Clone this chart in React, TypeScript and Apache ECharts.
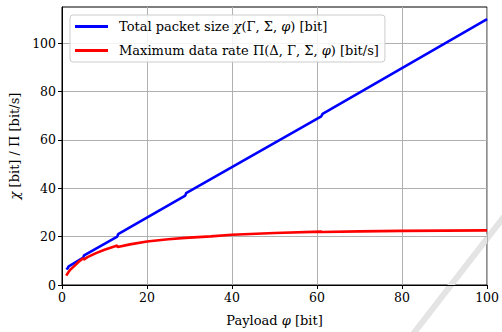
import React, { useEffect, useRef } from "react";
import * as echarts from "echarts";

// Total packet size chi [bit] (blue): payload phi -> value
const bluePayload = [1, 1.4, 1.5, 5, 5.2, 13, 13.2, 29, 29.2, 61, 61.3, 100];
const blueValues = [6.5, 7.0, 7.6, 11.3, 12.3, 20.0, 21.0, 37.0, 38.0, 69.8, 70.8, 110.0];

// Maximum data rate Pi [bit/s] (red)
const redPayload = [1, 1.5, 2, 3, 4, 5, 5.1, 6, 8, 10, 13, 13.1, 16, 20, 25, 29, 29.1, 35, 40, 50, 61, 61.2, 70, 80, 90, 100];
const redValues = [3.9, 5.3, 6.4, 8.0, 9.7, 11.1, 10.5, 11.5, 13.2, 14.6, 16.3, 15.7, 16.8, 18.0, 18.9, 19.5, 19.3, 20.1, 20.8, 21.5, 22.1, 21.9, 22.2, 22.4, 22.5, 22.6];

const xTicks = [0, 20, 40, 60, 80, 100];
const yTicks = [0, 20, 40, 60, 80, 100];

const FONT = "DejaVu Serif";

export default function App() {
  const ref = useRef<HTMLDivElement>(null);
  useEffect(() => {
    if (!ref.current) return;
    const chart = echarts.init(ref.current, undefined, { renderer: "svg" });
    const rich = {
      a: { fontFamily: FONT, fontSize: 13, color: "#000" },
      i: { fontFamily: FONT, fontSize: 13, fontStyle: "italic", color: "#000" },
    };
    const nameRich = {
      a: { fontFamily: FONT, fontSize: 13, color: "#000" },
      i: { fontFamily: FONT, fontSize: 13, fontStyle: "italic", color: "#000" },
    };
    chart.setOption({
      animation: false,
      backgroundColor: "#ffffff",
      grid: {
        left: 62,
        right: 12,
        top: 7,
        bottom: 46,
        show: true,
        borderColor: "#000",
        borderWidth: 1,
        backgroundColor: "transparent",
      },
      legend: {
        left: 70,
        top: 15,
        orient: "vertical",
        itemWidth: 33,
        itemHeight: 3,
        itemGap: 11,
        padding: [5, 6, 5, 5],
        backgroundColor: "rgba(255,255,255,0.85)",
        borderColor: "#cccccc",
        borderWidth: 1,
        borderRadius: 3,
        data: [
          { name: "blue", icon: "rect" },
          { name: "red", icon: "rect" },
        ],
        formatter: (name: string) =>
          name === "blue"
            ? "{a|Total packet size }{i|χ}{a|(Γ, Σ, }{i|φ}{a|) [bit]}"
            : "{a|Maximum data rate Π(Δ, Γ, Σ, }{i|φ}{a|) [bit/s]}",
        textStyle: { rich, padding: [0, 0, 0, 6] },
      },
      xAxis: {
        type: "value",
        min: 0,
        max: 100,
        interval: 20,
        name: "{a|Payload }{i|φ}{a| [bit]}",
        nameLocation: "middle",
        nameGap: 29,
        nameTextStyle: { rich: nameRich },
        axisLine: { show: true, lineStyle: { color: "#000", width: 1 } },
        axisTick: { show: true, inside: false, length: 4, lineStyle: { color: "#000" }, customValues: xTicks },
        axisLabel: { fontFamily: FONT, fontSize: 12.5, color: "#000", margin: 6, customValues: xTicks },
        splitLine: { show: true, lineStyle: { color: "#b0b0b0", width: 1 } },
      },
      yAxis: {
        type: "value",
        min: 0,
        max: 115,
        interval: 20,
        name: "{i|χ}{a| [bit] / Π [bit/s]}",
        nameLocation: "middle",
        nameGap: 37,
        nameRotate: 90,
        nameTextStyle: { rich: nameRich },
        axisLine: { show: true, lineStyle: { color: "#000", width: 1 } },
        axisTick: { show: true, inside: false, length: 4, lineStyle: { color: "#000" }, customValues: yTicks },
        axisLabel: { fontFamily: FONT, fontSize: 12.5, color: "#000", margin: 6, customValues: yTicks },
        splitLine: { show: true, lineStyle: { color: "#b0b0b0", width: 1 } },
      },
      graphic: [
        {
          type: "line",
          z: 0,
          silent: true,
          shape: { x1: 520, y1: 196, x2: 410, y2: 338 },
          style: { stroke: "#e4e4e4", lineWidth: 6 },
        },
      ],
      series: [
        {
          name: "blue",
          type: "line",
          data: bluePayload.map((x, i) => [x, blueValues[i]]),
          showSymbol: false,
          symbol: "none",
          lineStyle: { color: "#0000ff", width: 2.6 },
          itemStyle: { color: "#0000ff" },
          z: 3,
        },
        {
          name: "red",
          type: "line",
          data: redPayload.map((x, i) => [x, redValues[i]]),
          showSymbol: false,
          symbol: "none",
          lineStyle: { color: "#ff0000", width: 2.6 },
          itemStyle: { color: "#ff0000" },
          z: 4,
        },
      ],
    });
    return () => chart.dispose();
  }, []);
  return (
    <div
      ref={ref}
      style={{ position: "absolute", left: 0, top: 0, width: 502, height: 332 }}
    />
  );
}
